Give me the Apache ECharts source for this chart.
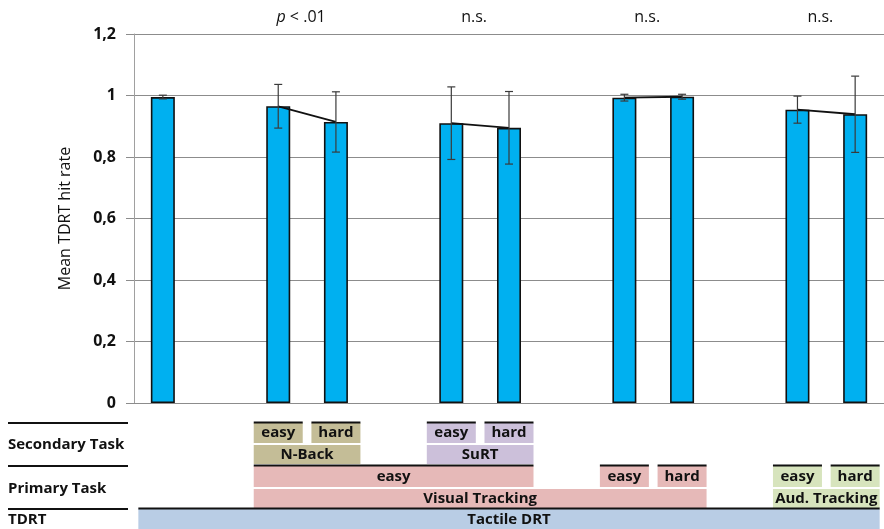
<!DOCTYPE html>
<html>
<head>
<meta charset="utf-8">
<script src="https://cdn.jsdelivr.net/npm/echarts@6/dist/echarts.min.js"></script>
<style>
  html, body { margin: 0; padding: 0; background: #fff; }
  #chart { width: 884px; height: 529px; }
</style>
</head>
<body>
<div id="chart"></div>
<script>
// Condition slots along the x axis (empty strings are spacer slots between task groups)
const categories = ['TDRT', '', 'NB-easy', 'NB-hard', '', 'SuRT-easy', 'SuRT-hard', '', 'VT-easy', 'VT-hard', '', 'AT-easy', 'AT-hard'];
// Mean TDRT hit rate per slot (null = spacer)
const meanHitRate = [0.995, null, 0.965, 0.914, null, 0.910, 0.895, null, 0.993, 0.996, null, 0.954, 0.939];
// Error bar half-widths per slot
const errorHalf = [0.006, null, 0.071, 0.098, null, 0.118, 0.118, null, 0.011, 0.008, null, 0.044, 0.124];
// Y tick values and labels
const yTicks = [0, 0.2, 0.4, 0.6, 0.8, 1, 1.2];
const yTickLabels = ['0', '0,2', '0,4', '0,6', '0,8', '1', '1,2'];
// Significance labels for each comparison pair
const pairLabels = [
  { from: 2, to: 3, italic: 'p', text: ' < .01' },
  { from: 5, to: 6, italic: '', text: 'n.s.' },
  { from: 8, to: 9, italic: '', text: 'n.s.' },
  { from: 11, to: 12, italic: '', text: 'n.s.' }
];
// Condition table below the chart: row key, first slot, last slot, group, text
const tableRowNames = ['Secondary Task', 'Primary Task', 'TDRT'];
const tableCells = [
  { row: 'secLevel', from: 2, to: 2, group: 'nback', text: 'easy' },
  { row: 'secLevel', from: 3, to: 3, group: 'nback', text: 'hard' },
  { row: 'secTask', from: 2, to: 3, group: 'nback', text: 'N-Back' },
  { row: 'secLevel', from: 5, to: 5, group: 'surt', text: 'easy' },
  { row: 'secLevel', from: 6, to: 6, group: 'surt', text: 'hard' },
  { row: 'secTask', from: 5, to: 6, group: 'surt', text: 'SuRT' },
  { row: 'priLevel', from: 2, to: 6, group: 'visual', text: 'easy' },
  { row: 'priLevel', from: 8, to: 8, group: 'visual', text: 'easy' },
  { row: 'priLevel', from: 9, to: 9, group: 'visual', text: 'hard' },
  { row: 'priTask', from: 2, to: 9, group: 'visual', text: 'Visual Tracking' },
  { row: 'priLevel', from: 11, to: 11, group: 'aud', text: 'easy' },
  { row: 'priLevel', from: 12, to: 12, group: 'aud', text: 'hard' },
  { row: 'priTask', from: 11, to: 12, group: 'aud', text: 'Aud. Tracking' },
  { row: 'tdrt', from: 0, to: 12, group: 'tdrt', text: 'Tactile DRT' }
];

// ---- styling ----
const FONT = '"Open Sans", "Noto Sans", sans-serif';
const TEXT = '#111111';
const FS = 16;
const TABLE_FS = 15;
const groupColors = { nback: '#c4bd97', surt: '#ccc0da', visual: '#e6b9b8', aud: '#d7e4bd', tdrt: '#b9cde5' };
const rowBands = {
  secLevel: { y: 423, h: 20, topLine: true },
  secTask:  { y: 445, h: 19, topLine: false },
  priLevel: { y: 466, h: 21, topLine: true },
  priTask:  { y: 489, h: 19, topLine: false },
  tdrt:     { y: 509, h: 22, topLine: true }
};
const rowLabelY = [445, 489, 520];
const rowDividerY = [423, 466, 509];

const chart = echarts.init(document.getElementById('chart'), null, { renderer: 'canvas' });

// Error bars as a custom series (vertical whisker with caps)
const errorData = meanHitRate.map((m, i) => m == null ? null : [i, m - errorHalf[i], m + errorHalf[i]]).filter(d => d);

const option = {
  animation: false,
  backgroundColor: '#ffffff',
  grid: { left: 134, top: 34, width: 754, height: 369, containLabel: false },
  xAxis: {
    type: 'category',
    data: categories,
    axisLine: { show: true, lineStyle: { color: '#8c8c8c', width: 1 } },
    axisTick: { show: false },
    axisLabel: { show: false },
    splitLine: { show: false }
  },
  yAxis: {
    type: 'value',
    min: 0, max: 1.2, interval: 0.2,
    name: 'Mean TDRT hit rate',
    nameLocation: 'middle',
    nameRotate: 90,
    nameGap: 61,
    nameTextStyle: { fontFamily: FONT, fontSize: FS, color: TEXT },
    axisLine: { show: true, lineStyle: { color: '#a0a0a0', width: 1 } },
    axisTick: { show: true, length: 8, lineStyle: { color: '#8c8c8c' } },
    axisLabel: {
      margin: 18,
      fontFamily: FONT, fontSize: FS, fontWeight: 'bold', color: TEXT,
      formatter: v => {
        const i = yTicks.findIndex(t => Math.abs(t - v) < 1e-6);
        return i >= 0 ? yTickLabels[i] : '';
      }
    },
    splitLine: { show: true, lineStyle: { color: '#8c8c8c', width: 1 } }
  },
  series: [
    {
      type: 'bar',
      data: meanHitRate.map(v => v == null ? '-' : v),
      barWidth: 24,
      itemStyle: { color: '#00b0f0', borderColor: '#111', borderWidth: 1.6 },
      z: 2
    },
    {
      type: 'line',
      data: meanHitRate.map(v => v == null ? '-' : v),
      connectNulls: false,
      showSymbol: false,
      symbol: 'none',
      lineStyle: { color: '#111', width: 1.8 },
      z: 3
    },
    {
      type: 'custom',
      data: errorData,
      z: 4,
      renderItem: (params, api) => {
        const x = api.value(0);
        const lo = api.coord([x, api.value(1)]);
        const hi = api.coord([x, api.value(2)]);
        const cap = 4;
        const st = { stroke: '#3a3a3a', lineWidth: 1.2 };
        return {
          type: 'group',
          children: [
            { type: 'line', shape: { x1: lo[0], y1: lo[1], x2: hi[0], y2: hi[1] }, style: st },
            { type: 'line', shape: { x1: lo[0] - cap, y1: lo[1], x2: lo[0] + cap, y2: lo[1] }, style: st },
            { type: 'line', shape: { x1: hi[0] - cap, y1: hi[1], x2: hi[0] + cap, y2: hi[1] }, style: st }
          ]
        };
      }
    }
  ]
};
chart.setOption(option);

// Pixel helpers from the category axis
const px = i => chart.convertToPixel({ xAxisIndex: 0 }, i);
const HALF = 24.5;

const graphics = [];

// Significance labels above each pair
pairLabels.forEach(p => {
  const cx = (px(p.from) + px(p.to)) / 2 - 6;
  graphics.push({
    type: 'text',
    x: cx, y: 17,
    style: {
      text: p.italic ? '{i|' + p.italic + '}{n|' + p.text + '}' : '{n|' + p.text + '}',
      align: 'center', verticalAlign: 'middle',
      rich: {
        i: { fontFamily: FONT, fontSize: FS, fontStyle: 'italic', fill: TEXT },
        n: { fontFamily: FONT, fontSize: FS, fill: TEXT }
      }
    }
  });
});

// Row labels and dividers on the left
tableRowNames.forEach((name, k) => {
  graphics.push({
    type: 'text',
    x: 8, y: rowLabelY[k],
    style: { text: name, fontFamily: FONT, fontSize: TABLE_FS, fontWeight: 'bold', fill: TEXT, verticalAlign: 'middle', align: 'left' }
  });
  graphics.push({
    type: 'rect',
    shape: { x: 8, y: rowDividerY[k] - 1, width: 120, height: 2 },
    style: { fill: '#111' }
  });
});

// Table cells
tableCells.forEach(c => {
  const band = rowBands[c.row];
  const x0 = px(c.from) - HALF;
  const x1 = Math.min(px(c.to) + HALF, 884);
  graphics.push({
    type: 'rect',
    shape: { x: x0, y: band.y, width: x1 - x0, height: band.h },
    style: { fill: groupColors[c.group] },
    z: 1
  });
  if (band.topLine) {
    graphics.push({
      type: 'rect',
      shape: { x: x0, y: band.y - 1.5, width: x1 - x0, height: 2 },
      style: { fill: '#111' },
      z: 2
    });
  }
  graphics.push({
    type: 'text',
    x: (x0 + x1) / 2, y: band.y + band.h / 2,
    style: {
      text: c.text, fontFamily: FONT, fontSize: TABLE_FS, fontWeight: 'bold', fill: TEXT,
      align: 'center', verticalAlign: 'middle'
    },
    z: 3
  });
});

chart.setOption({ graphic: graphics });
</script>
</body>
</html>
